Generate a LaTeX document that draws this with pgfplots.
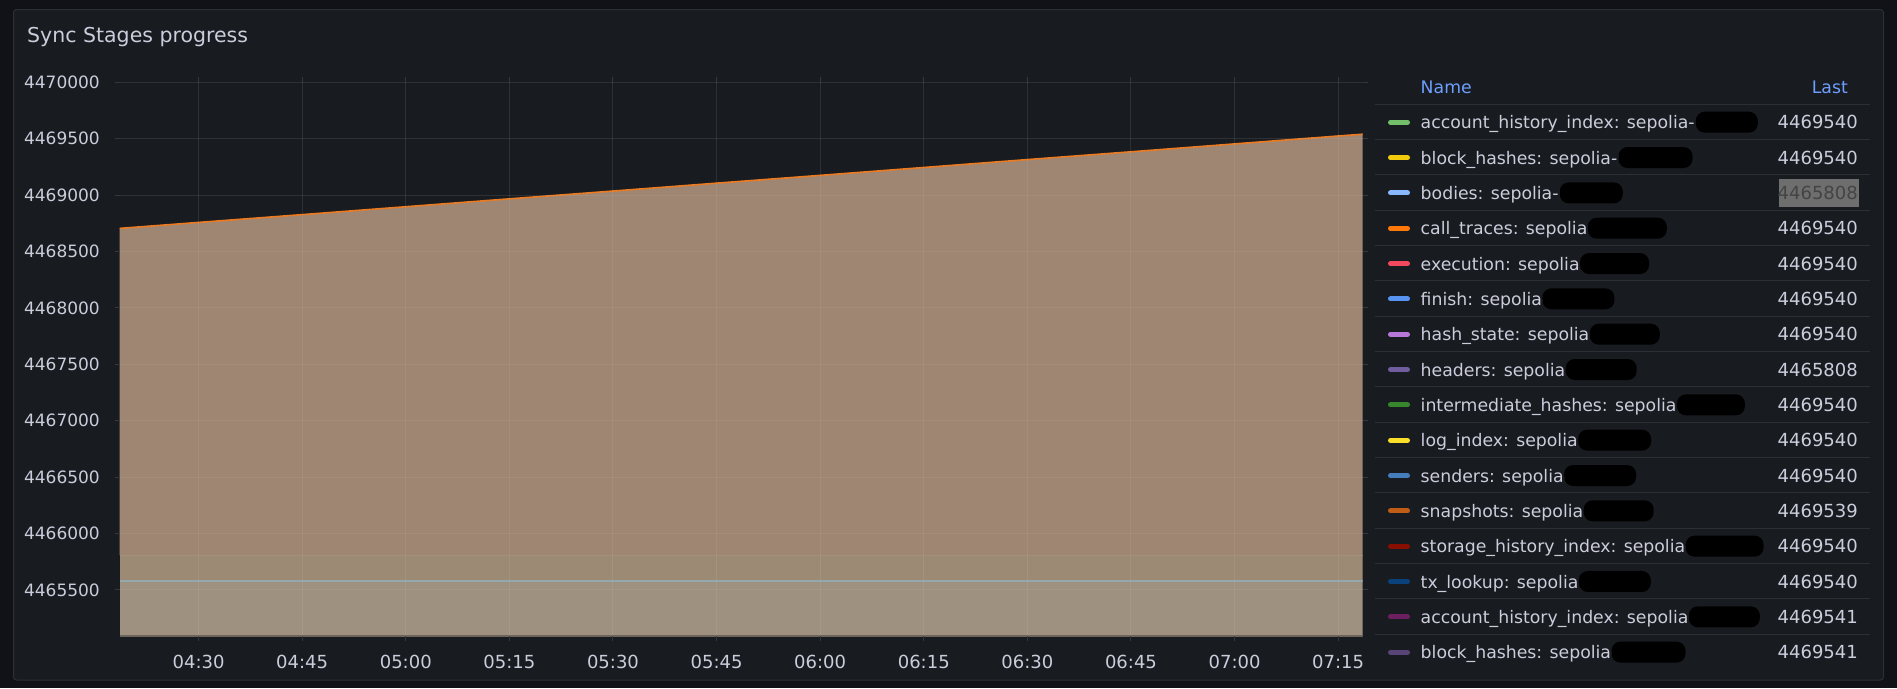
\documentclass[border=0pt]{standalone}
\usepackage{fontspec}
\setmainfont{DejaVu Sans}
\usepackage{pgfplots}
\pgfplotsset{compat=1.18}
\definecolor{outerbg}{HTML}{111217}
\definecolor{panelbg}{HTML}{181B1F}
\definecolor{panelborder}{HTML}{2C2F35}
\definecolor{txt}{HTML}{CCCCDC}
\definecolor{hdr}{HTML}{6E9FFF}
\definecolor{sepc}{HTML}{2C2F35}
\definecolor{gridc}{HTML}{CCCCDC}
\definecolor{tickc}{HTML}{34373C}
\definecolor{fillA}{HTML}{9E8672}
\definecolor{fillB}{HTML}{9C8A75}
\definecolor{fillC}{HTML}{9E917F}
\definecolor{lineO}{HTML}{EB7B22}
\definecolor{lineB}{HTML}{93A9AB}
\definecolor{lineH}{HTML}{A39080}
\definecolor{lineBot}{HTML}{6D655C}
\definecolor{hlbox}{HTML}{6E6E6E}
\definecolor{hltxt}{HTML}{444444}
\definecolor{c1}{HTML}{73BF69}
\definecolor{c2}{HTML}{F2CC0C}
\definecolor{c3}{HTML}{8AB8FF}
\definecolor{c4}{HTML}{FF780A}
\definecolor{c5}{HTML}{F2495C}
\definecolor{c6}{HTML}{5794F2}
\definecolor{c7}{HTML}{B877D9}
\definecolor{c8}{HTML}{705DA0}
\definecolor{c9}{HTML}{37872D}
\definecolor{c10}{HTML}{FADE2A}
\definecolor{c11}{HTML}{447EBC}
\definecolor{c12}{HTML}{C15C17}
\definecolor{c13}{HTML}{890F02}
\definecolor{c14}{HTML}{0A437C}
\definecolor{c15}{HTML}{6D1F62}
\definecolor{c16}{HTML}{584477}
\newcommand{\fs}{\fontsize{18}{21}\selectfont}
\newcommand{\fn}{\fontsize{17.3}{21}\selectfont}
\newcommand{\fy}{\fontsize{17}{21}\selectfont}
\begin{document}
\begin{tikzpicture}
\begin{scope}[x=1pt,y=-1pt]
\fill[outerbg] (0,0) rectangle (1897,688);
\draw[panelborder, fill=panelbg, rounded corners=3pt, line width=1pt] (13.5,9.5) rectangle (1883.5,680);
\node[anchor=base west, inner sep=0pt, text=txt, font=\fontsize{20.5}{24}\selectfont] at (27,42.3) {Sync Stages progress};
\end{scope}

\begin{axis}[
  at={(119.5pt,-636.3pt)}, anchor=south west,
  scale only axis, width=1243.2pt, height=554pt,
  xmin=258.55, xmax=438.55, ymin=4465089, ymax=4470000,
  scaled y ticks=false, scaled x ticks=false,
  xtick={270,285,300,315,330,345,360,375,390,405,420,435},
  xticklabels={04:30,04:45,05:00,05:15,05:30,05:45,06:00,06:15,06:30,06:45,07:00,07:15},
  ytick={4465500,4466000,4466500,4467000,4467500,4468000,4468500,4469000,4469500,4470000},
  yticklabels={4465500,4466000,4466500,4467000,4467500,4468000,4468500,4469000,4469500,4470000},
  axis line style={draw=none},
  tick align=outside, major tick length=5pt,
  tick style={color=tickc, line width=1pt},
  grid=major, major grid style={color=gridc, opacity=0.12, line width=1pt},
  axis on top,
  xticklabel style={font=\fs, text=txt, inner sep=0pt, anchor=center, yshift=-20.7pt},
  yticklabel style={font=\fy, text=txt, inner sep=0pt, anchor=east, xshift=-14.5pt},
]
% bottom band (below the constant light-blue series)
\addplot[draw=none, fill=fillC] coordinates {(258.55,4465089) (258.55,4465583) (438.55,4465583) (438.55,4465089)};
% middle band (between the two constant series)
\addplot[draw=none, fill=fillB] coordinates {(258.55,4465583) (258.55,4465808) (438.55,4465808) (438.55,4465583)};
% top band: below the rising stage progress
\addplot[draw=none, fill=fillA] coordinates {
(258.55,4465808) (258.55,4468705) (270,4468758) (285,4468827) (300,4468897) (315,4468967)
(330,4469036) (345,4469106) (360,4469175) (375,4469245) (390,4469315) (405,4469384)
(420,4469454) (435,4469524) (438.55,4469540) (438.55,4465808)};
\addplot[lineBot, line width=1.5pt] coordinates {(258.55,4465092) (438.55,4465092)};
\addplot[lineH, line width=1pt] coordinates {(258.55,4465808) (438.55,4465808)};
\addplot[lineB, line width=2pt] coordinates {(258.55,4465583) (438.55,4465583)};
\addplot[lineO, line width=1.6pt] coordinates {
(258.55,4468705) (270,4468758) (285,4468827) (300,4468897) (315,4468967)
(330,4469036) (345,4469106) (360,4469175) (375,4469245) (390,4469315) (405,4469384)
(420,4469454) (435,4469524) (438.55,4469540)};
\end{axis}

\begin{scope}[x=1pt,y=-1pt]
\node[anchor=base west, inner sep=0pt, text=hdr, font=\fn] at (1420.5,93.5) {Name};
\node[anchor=base east, inner sep=0pt, text=hdr, font=\fn] at (1848,93.5) {Last};
\foreach \i in {0,...,15} {
  \pgfmathsetmacro{\sy}{104.3+35.33*\i}
  \draw[sepc, line width=1pt] (1375,\sy) -- (1870,\sy);
}
\fill[hlbox] (1779,179.2) rectangle (1859,206.7);
\foreach \i/\nm/\col/\val/\dx/\w in {
  0/account\_history\_index/c1/4469540/1/62,
  1/block\_hashes/c2/4469540/1/74,
  2/bodies/c3/4465808/1/63,
  3/call\_traces/c4/4469540/-6/79,
  4/execution/c5/4469540/-6/69,
  5/finish/c6/4469540/-6/72,
  6/hash\_state/c7/4469540/-6/70,
  7/headers/c8/4465808/-6/71,
  8/intermediate\_hashes/c9/4469540/-6/68,
  9/log\_index/c10/4469540/-6/73,
  10/senders/c11/4469540/-6/72,
  11/snapshots/c12/4469539/-6/70,
  12/storage\_history\_index/c13/4469540/-6/78,
  13/tx\_lookup/c14/4469540/-6/72,
  14/account\_history\_index/c15/4469541/-6/71,
  15/block\_hashes/c16/4469541/-6/74} {
  \pgfmathsetmacro{\yc}{122.3+35.33*\i}
  \pgfmathsetmacro{\yb}{\yc+6.5}
  \draw[\col, line width=5pt, line cap=round] (1390.5,\yc) -- (1407.5,\yc);
  \node[anchor=base west, inner sep=0pt, text=txt, font=\fn] (n\i) at (1420.5,\yb) {\nm: sepolia-};
  \fill[black, rounded corners=9pt] ([xshift=\dx pt]n\i.base east) ++(0,3.9) rectangle ++(\w,-21);
  \ifnum\i=2
    \node[anchor=base east, inner sep=0pt, text=hltxt, font=\fs] at (1858,\yb) {\val};
  \else
    \node[anchor=base east, inner sep=0pt, text=txt, font=\fs] at (1858,\yb) {\val};
  \fi
}
\end{scope}
\end{tikzpicture}
\end{document}
